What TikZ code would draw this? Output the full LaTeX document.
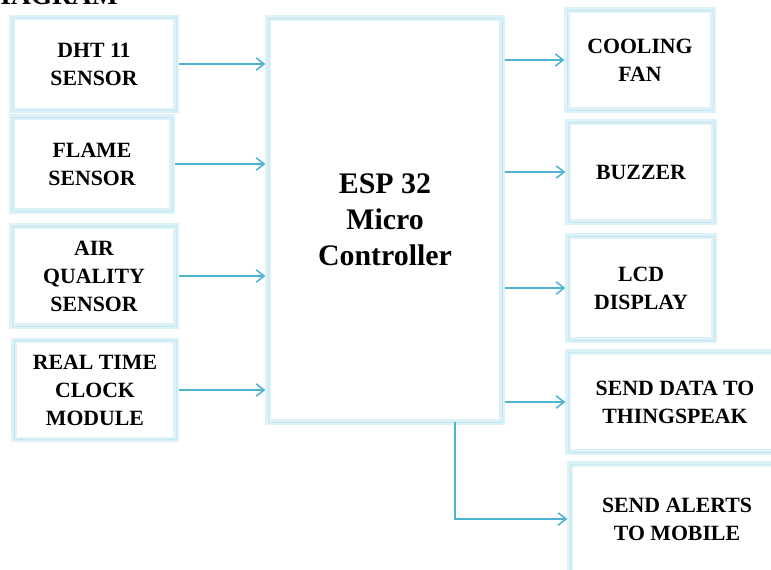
\documentclass[tikz,border=0pt]{standalone}
\usepackage{fontspec}
\setmainfont{Liberation Serif}
\usepackage{tikz}
\usetikzlibrary{arrows.meta, positioning}
\definecolor{boxedge}{HTML}{DDF2F8}
\definecolor{boxline}{HTML}{C4E8F2}
\definecolor{linkblue}{HTML}{4FB4CF}

\begin{document}
\begin{tikzpicture}[x=0.02cm, y=-0.02cm]
  \tikzstyle{blk}=[draw=boxedge, line width=3pt, fill=white,
    align=center, inner sep=2pt,
    font=\fontsize{12.4}{15.9}\selectfont\bfseries,
    postaction={draw=boxline, line width=0.5pt}]
  \tikzstyle{link}=[-{Straight Barb[length=4.5pt, width=7pt]},
    draw=linkblue, line width=0.9pt]

  \useasboundingbox (0,0) rectangle (771,569);

  % heading, cut off at the top edge
  \node[anchor=base east, inner sep=0pt,
    font=\fontsize{15.6}{18}\selectfont\bfseries] (title) at (118,4) {DIAGRAM};

  % inputs
  \node[blk, minimum width=164*0.02cm, minimum height=93*0.02cm]  (dht)   at (94,64)    {DHT 11\\SENSOR};
  \node[blk, minimum width=160*0.02cm, minimum height=94*0.02cm]  (flame) at (92,164)   {FLAME\\SENSOR};
  \node[blk, minimum width=164*0.02cm, minimum height=100*0.02cm] (air)   at (94,276)   {AIR\\QUALITY\\SENSOR};
  \node[blk, minimum width=162*0.02cm, minimum height=99*0.02cm]  (rtc)   at (95,390)   {REAL TIME\\CLOCK\\MODULE};

  % controller
  \node[blk, minimum width=234*0.02cm, minimum height=404*0.02cm,
    font=\fontsize{17}{20.4}\selectfont\bfseries] (esp) at (385,220)
    {ESP 32\\Micro\\Controller};

  % outputs
  \node[blk, minimum width=146*0.02cm, minimum height=100*0.02cm] (fan)   at (640,60)  {COOLING\\FAN};
  \node[blk, minimum width=146*0.02cm, minimum height=100*0.02cm] (buzz)  at (641,172) {BUZZER};
  \node[blk, minimum width=146*0.02cm, minimum height=104*0.02cm] (lcd)   at (641,288) {LCD\\DISPLAY};
  \node[blk, minimum width=214*0.02cm, minimum height=100*0.02cm] (cloud) at (675,402) {SEND DATA TO\\THINGSPEAK};
  \node[blk, minimum width=214*0.02cm, minimum height=110*0.02cm] (alert) at (677,519) {SEND ALERTS\\TO MOBILE};

  \draw[link] (dht.east)   -- (dht.east -| esp.west);
  \draw[link] (flame.east) -- (flame.east -| esp.west);
  \draw[link] (air.east)   -- (air.east -| esp.west);
  \draw[link] (rtc.east)   -- (rtc.east -| esp.west);

  \draw[link] (fan.west -| esp.east)   -- (fan.west);
  \draw[link] (buzz.west -| esp.east)  -- (buzz.west);
  \draw[link] (lcd.west -| esp.east)   -- (lcd.west);
  \draw[link] (cloud.west -| esp.east) -- (cloud.west);

  \coordinate (tap) at (455,422);
  \draw[link] (tap) |- (alert.west);
\end{tikzpicture}
\end{document}
